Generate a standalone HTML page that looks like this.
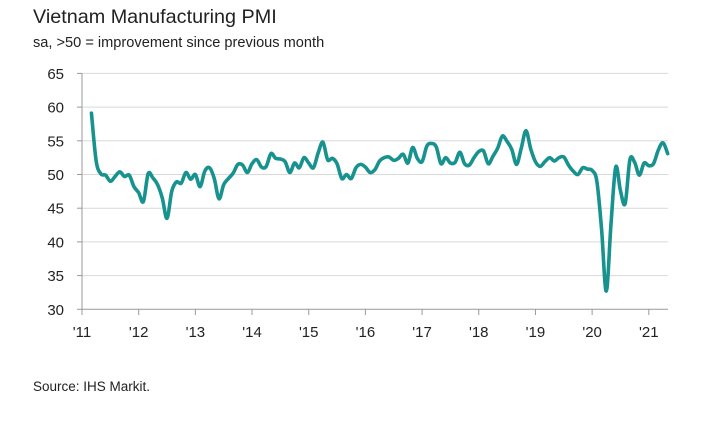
<!DOCTYPE html>
<html><head><meta charset="utf-8"><style>
body{margin:0;background:#fff;width:720px;height:420px;overflow:hidden;font-family:"Liberation Sans",sans-serif}
</style></head><body>
<svg id="s" width="720" height="420" xmlns="http://www.w3.org/2000/svg" font-family="Liberation Sans, sans-serif">
<text x="33" y="23" font-size="19.8" fill="#222">Vietnam Manufacturing PMI</text>
<text x="33" y="47" font-size="14.6" fill="#222">sa, &gt;50 = improvement since previous month</text>
<text x="33" y="391" font-size="13.5" fill="#222">Source: IHS Markit.</text>
<g id="g"></g>
</svg>
<script>
var g=document.getElementById('g'),h='';
function Y(v){return 309.3-(v-30)*6.74;}
for(var v=30;v<=65;v+=5){var y=Y(v);
 if(v>30)h+='<line x1="82" x2="668" y1="'+y+'" y2="'+y+'" stroke="#d9d9d9" stroke-width="1"/>';
 h+='<line x1="77" x2="82" y1="'+y+'" y2="'+y+'" stroke="#999"/>';
 h+='<text x="64" y="'+(y+5.5)+'" font-size="15" text-anchor="end" fill="#222">'+v+'</text>';}
h+='<line x1="82" x2="82" y1="'+Y(65)+'" y2="309.3" stroke="#999"/>';
h+='<line x1="82" x2="668" y1="309.3" y2="309.3" stroke="#999"/>';
for(var i=0;i<=10;i++){var x=82+i*56.68;
 h+='<line x1="'+x+'" x2="'+x+'" y1="309.3" y2="315" stroke="#999"/>';
 h+='<text x="'+x+'" y="337" font-size="15" text-anchor="middle" fill="#222">\''+(11+i)+'</text>';}
var d=[59.1,52,50.1,49.9,49,49.7,50.4,49.7,49.9,48.2,
47.3,46,50.1,49.5,48.5,46.5,43.5,47.5,48.9,48.7,50.3,49.3,
50,48.2,50.5,51,49.4,46.4,48.5,49.4,50.2,51.5,51.4,50.3,
51.6,52.2,51.1,51.2,53.1,52.4,52.3,51.9,50.3,51.7,51.0,52.5,
51.7,51,53.2,54.8,52.2,52.4,51.6,49.4,50,49.4,51,51.5,
51.1,50.3,50.7,52,52.5,52.6,52.1,52.4,53,51.7,54.0,52.4,
51.9,54.2,54.6,54.1,51.6,52.5,51.7,51.8,53.3,51.6,51.4,52.5,
53.4,53.5,51.6,52.7,53.9,55.7,54.9,53.7,51.5,53.9,56.5,53.8,
51.9,51.2,51.9,52.5,52,52.5,52.6,51.4,50.5,50,51,50.8,
50.6,49,41.9,32.7,42.7,51.1,47.6,45.7,52.2,51.8,49.9,51.7,
51.3,51.6,53.6,54.7,53.1];
var p=[];for(var i=0;i<d.length;i++)p.push([82+(i+2)*4.7233,Y(d[i])]);
var s='M'+p[0][0]+','+p[0][1];
for(var i=0;i<p.length-1;i++){var a=p[Math.max(0,i-1)],b=p[i],c=p[i+1],e=p[Math.min(p.length-1,i+2)];
 s+='C'+(b[0]+(c[0]-a[0])/6)+','+(b[1]+(c[1]-a[1])/6)+' '+(c[0]-(e[0]-b[0])/6)+','+(c[1]-(e[1]-b[1])/6)+' '+c[0]+','+c[1];}
h+='<path d="'+s+'" fill="none" stroke="#17928f" stroke-width="3.6" stroke-linejoin="round" stroke-linecap="round"/>';
g.innerHTML=h;
</script>
</body></html>
